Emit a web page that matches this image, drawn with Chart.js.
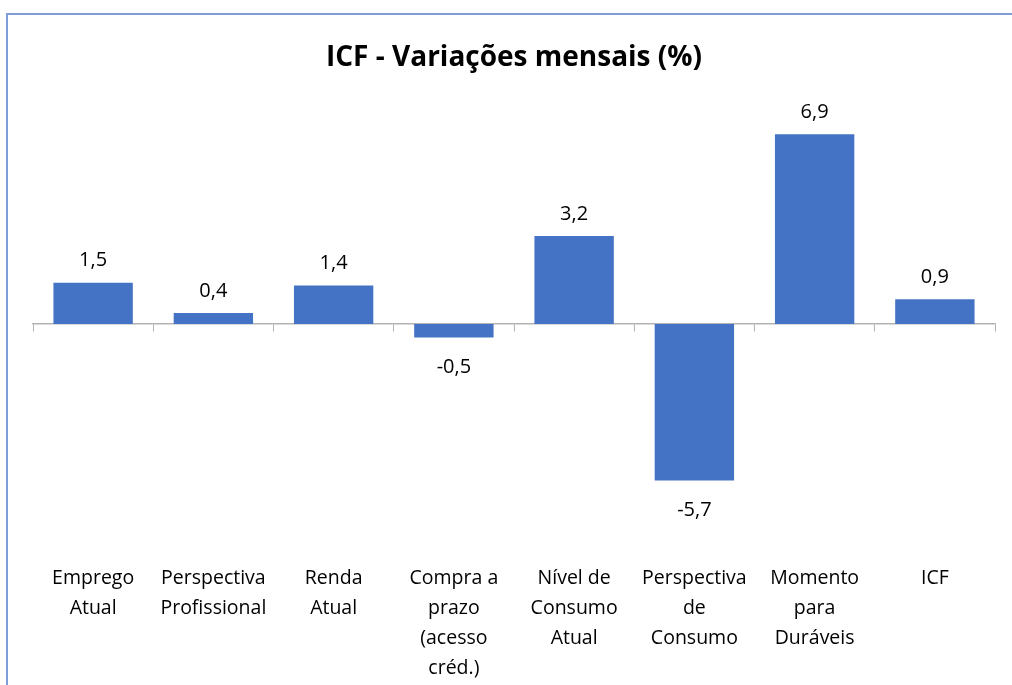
<!DOCTYPE html>
<html>
<head>
<meta charset="utf-8">
<script src="https://cdn.jsdelivr.net/npm/chart.js@4.4.0/dist/chart.umd.min.js"></script>
<style>
  html, body { margin: 0; padding: 0; background: #fff; overflow: hidden; }
  #frame { position: absolute; left: 6px; top: 13px; width: 1100px; height: 800px; border: 2px solid #7f9dd6; box-sizing: border-box; }
  #wrap  { position: absolute; left: 0; top: 0; width: 1012px; height: 685px; }
</style>
</head>
<body>
<div id="frame"></div>
<div id="wrap"><canvas id="chart"></canvas></div>
<script>
// Categories (multi-line as in the original) and monthly variation in %
const CATEGORIES = [
  ["Emprego", "Atual"],
  ["Perspectiva", "Profissional"],
  ["Renda", "Atual"],
  ["Compra a", "prazo", "(acesso", "créd.)"],
  ["Nível de", "Consumo", "Atual"],
  ["Perspectiva", "de", "Consumo"],
  ["Momento", "para", "Duráveis"],
  ["ICF"]
];
const VALUES = [1.5, 0.4, 1.4, -0.5, 3.2, -5.7, 6.9, 0.9];
const Y_MIN = -8.7;
const Y_MAX = 8;

const BAR_COLOR = "#4472c4";
const FONT = "'Open Sans'";

// Excel-style "outside end" value labels, comma as decimal separator.
const barLabels = {
  id: "barLabels",
  afterDatasetsDraw(chart) {
    const ctx = chart.ctx;
    const meta = chart.getDatasetMeta(0);
    ctx.save();
    ctx.font = `20px ${FONT}`;
    ctx.fillStyle = "#000";
    ctx.textAlign = "center";
    ctx.textBaseline = "middle";
    meta.data.forEach((bar, i) => {
      const v = VALUES[i];
      const y = v >= 0 ? bar.y - 22 : bar.y + 30;
      ctx.fillText(v.toFixed(1).replace(".", ","), bar.x, y);
    });
    ctx.restore();
  }
};

new Chart(document.getElementById("chart"), {
  type: "bar",
  data: {
    labels: CATEGORIES,
    datasets: [{
      data: VALUES,
      backgroundColor: BAR_COLOR,
      borderWidth: 0,
      categoryPercentage: 1,
      barPercentage: 0.66
    }]
  },
  options: {
    responsive: true,
    maintainAspectRatio: false,
    animation: false,
    layout: { padding: { top: 0, left: 33, right: 17, bottom: 2 } },
    plugins: {
      legend: { display: false },
      tooltip: { enabled: false },
      title: {
        display: true,
        text: "ICF - Variações mensais (%)",
        color: "#000",
        font: { family: FONT, size: 28, weight: "bold", lineHeight: 1.2 },
        padding: { top: 41.2, bottom: 29.2 }
      }
    },
    scales: {
      // category axis drawn on the zero line: gray line + tick marks between bars
      x: {
        position: { y: 0 },
        offset: true,
        ticks: { display: false },
        grid: { offset: true, drawOnChartArea: false, drawTicks: true, tickLength: 7, color: "#b3b3b3" },
        border: { display: true, color: "#b3b3b3", width: 1.5 }
      },
      // labels sit at the bottom of the plot, like Excel's "low" label position
      x2: {
        type: "category",
        position: "bottom",
        offset: true,
        grid: { display: false, drawTicks: false },
        border: { display: false },
        ticks: {
          color: "#000",
          maxRotation: 0,
          autoSkip: false,
          padding: 0,
          font: { family: FONT, size: 19.5, lineHeight: 30 / 19.5 }
        }
      },
      y: {
        display: false,
        min: Y_MIN,
        max: Y_MAX
      }
    }
  },
  plugins: [barLabels]
});
</script>
</body>
</html>
